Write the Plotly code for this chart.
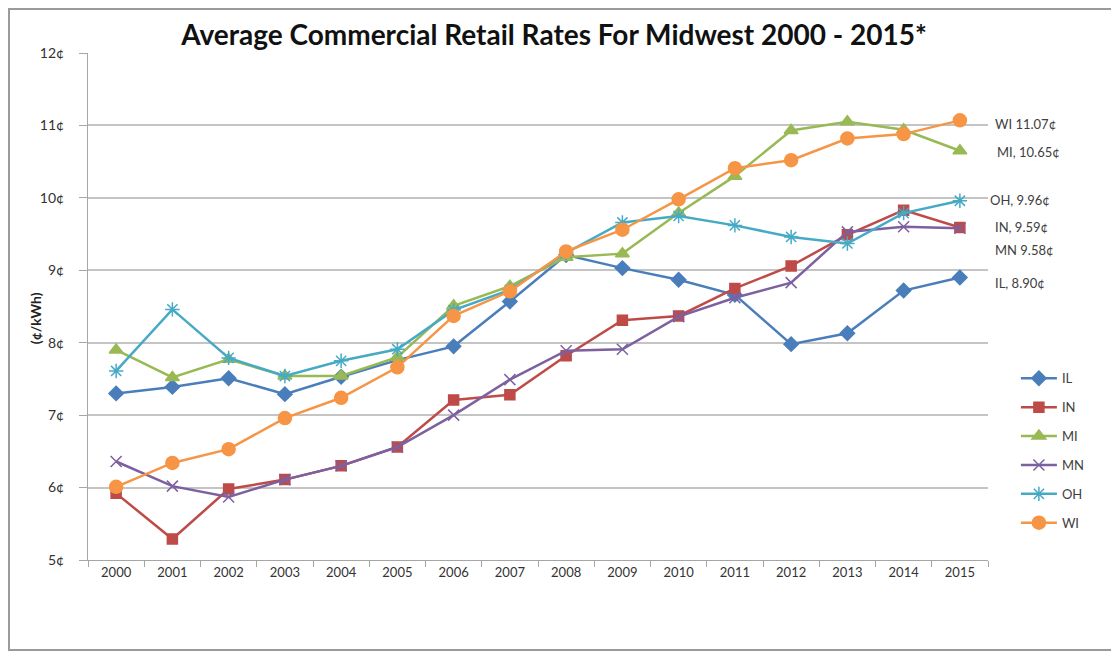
import plotly.graph_objects as go

years = [str(y) for y in range(2000, 2016)]
IL = [7.30, 7.39, 7.51, 7.29, 7.53, 7.76, 7.95, 8.57, 9.21, 9.03, 8.87, 8.66, 7.98, 8.13, 8.72, 8.90]
IN = [5.92, 5.29, 5.98, 6.11, 6.30, 6.56, 7.21, 7.28, 7.82, 8.31, 8.37, 8.75, 9.06, 9.49, 9.83, 9.59]
MI = [7.90, 7.52, 7.77, 7.54, 7.54, 7.80, 8.51, 8.78, 9.18, 9.23, 9.79, 10.30, 10.93, 11.05, 10.94, 10.65]
MN = [6.36, 6.02, 5.87, 6.11, 6.30, 6.56, 7.00, 7.49, 7.89, 7.91, 8.36, 8.62, 8.83, 9.53, 9.60, 9.58]
OH = [7.61, 8.46, 7.79, 7.54, 7.75, 7.91, 8.45, 8.73, 9.24, 9.66, 9.75, 9.62, 9.46, 9.37, 9.79, 9.96]
WI = [6.01, 6.34, 6.53, 6.96, 7.24, 7.66, 8.37, 8.71, 9.26, 9.56, 9.98, 10.41, 10.52, 10.82, 10.88, 11.07]

series = [
    ("IL", IL, "#4A7EBB", "diamond", 11),
    ("IN", IN, "#BE4B48", "square", 10),
    ("MI", MI, "#98B954", "triangle-up", 12),
    ("MN", MN, "#7D60A0", "x-thin-open", 11),
    ("OH", OH, "#46AAC5", "asterisk-open", 12),
    ("WI", WI, "#F69545", "circle", 13),
]

end_labels = ["IL, 8.90¢", "IN, 9.59¢", "MI, 10.65¢", "MN 9.58¢", "OH, 9.96¢", "WI 11.07¢"]
label_y = [8.83, 9.60, 10.63, 9.28, 9.97, 11.02]
label_dx = [33, 33, 35, 33, 28, 33]

yticks = [5, 6, 7, 8, 9, 10, 11, 12]
ytext = [f"{v}¢" for v in yticks]

font = "Lato, 'Open Sans', sans-serif"

fig = go.Figure()
for i, (name, vals, color, sym, size) in enumerate(series):
    fig.add_trace(go.Scatter(
        x=years, y=vals, name=name, mode="lines+markers",
        line=dict(color=color, width=2.5),
        marker=dict(symbol=sym, size=size, color=color,
                    line=dict(color=color, width=1.5)),
        legendgroup=name,
    ))

last_idx = len(years) - 1
annotations = []
for txt, yv, dx in zip(end_labels, label_y, label_dx):
    annotations.append(dict(x=last_idx, y=yv, xref="x", yref="y", text=txt,
                            showarrow=False, xanchor="left", xshift=dx,
                            font=dict(family=font, size=13, color="#404040")))
annotations.append(dict(x=-0.0589, y=0.477, xref="paper", yref="paper",
                        text="<b>(¢/kWh)</b>", textangle=-90, showarrow=False,
                        xanchor="center", yanchor="middle",
                        font=dict(family=font, size=14, color="#222222")))

fig.update_layout(
    width=1111, height=647,
    margin=dict(l=80, r=131, t=45, b=95, autoexpand=False),
    paper_bgcolor="white", plot_bgcolor="white",
    title=dict(text="<b>Average Commercial Retail Rates For Midwest 2000 - 2015*</b>",
               x=0.4915, xanchor="center", y=0.958, yanchor="middle",
               font=dict(family=font, size=28, color="#111111")),
    font=dict(family=font, size=13, color="#404040"),
    showlegend=True,
    legend=dict(x=1.031, y=0.388, xanchor="left", yanchor="top",
                traceorder="grouped", tracegroupgap=9,
                font=dict(family=font, size=13, color="#404040"),
                itemwidth=36, bgcolor="rgba(0,0,0,0)"),
    annotations=annotations,
    shapes=[dict(type="rect", xref="paper", yref="paper",
                 x0=-0.0878, x1=1.2, y0=-0.1775, y1=1.0868,
                 line=dict(color="#9a9a9a", width=2), layer="below")],
)

fig.update_xaxes(type="category", range=[-0.5, len(years) - 0.5], automargin=False,
                 showline=True, linecolor="#a6a6a6", linewidth=1, tickangle=0,
                 ticks="outside", tickson="boundaries", ticklen=6, tickcolor="#a6a6a6",
                 showgrid=False, tickfont=dict(family=font, size=13, color="#333333"))
fig.update_yaxes(range=[5, 12], tickvals=yticks, ticktext=ytext, automargin=False,
                 showline=True, linecolor="#a6a6a6", linewidth=1,
                 ticks="outside", ticklen=8, tickcolor="#a6a6a6", ticklabelstandoff=12,
                 showgrid=True, gridcolor="#c4c4c4", gridwidth=1.5, zeroline=False,
                 tickfont=dict(family=font, size=14, color="#333333"))

fig.write_html("out.html")
